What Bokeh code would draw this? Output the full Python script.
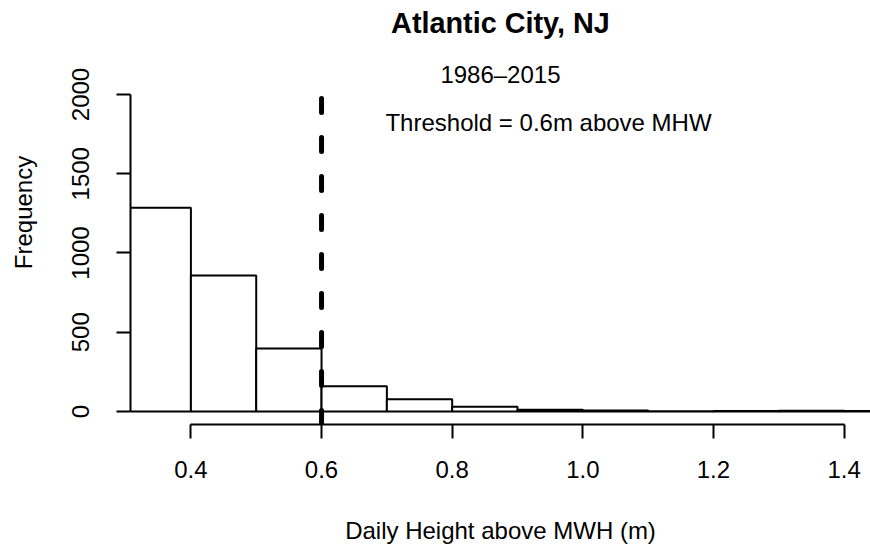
import math
from bokeh.plotting import figure
from bokeh.models import Range1d, FixedTicker, PrintfTickFormatter, Label, ColumnDataSource
from bokeh.embed import file_html
from bokeh.resources import INLINE

# ---- data ----
bin_left = [0.3, 0.4, 0.5, 0.6, 0.7, 0.8, 0.9, 1.0, 1.1, 1.2, 1.3, 1.4]
bin_right = [0.4, 0.5, 0.6, 0.7, 0.8, 0.9, 1.0, 1.1, 1.2, 1.3, 1.4, 1.5]
counts = [1285, 858, 397, 160, 77, 30, 11, 6, 1, 3, 4, 3]
threshold = [0.6]
x_ticks = [0.4, 0.6, 0.8, 1.0, 1.2, 1.4]
y_ticks = [0, 500, 1000, 1500, 2000]

title_text = "Atlantic City, NJ"
subtitle_text = "1986\u20132015"
note_text = "Threshold = 0.6m above MHW"
xlab = "Daily Height above MWH (m)"
ylab = "Frequency"

FONT = "Liberation Sans"

# plot region (R's usr box) in data units
REGION_Y = (-82, 2082)

p = figure(width=870, height=547, output_backend="svg", toolbar_location=None, title=None,
           x_range=Range1d(0.30753, 1.44042), y_range=Range1d(-82, 2593),
           min_border_left=130, min_border_right=0, min_border_top=0, min_border_bottom=123,
           background_fill_color="white", border_fill_color="white", outline_line_color=None)
p.xgrid.visible = False
p.ygrid.visible = False

src = ColumnDataSource(dict(left=bin_left, right=bin_right, top=counts, bottom=[0] * len(counts)))
p.quad(left="left", right="right", top="top", bottom="bottom", source=src,
       fill_color="white", line_color="black", line_width=2)

p.segment(x0=threshold, y0=[REGION_Y[0]], x1=threshold, y1=[REGION_Y[1]],
          line_color="black", line_width=5, line_dash="14 25", line_cap="round")

xa = p.xaxis[0]
xa.ticker = FixedTicker(ticks=x_ticks)
xa.formatter = PrintfTickFormatter(format="%.1f")
xa.bounds = (x_ticks[0], x_ticks[-1])
ya = p.yaxis[0]
ya.ticker = FixedTicker(ticks=y_ticks)
ya.bounds = (y_ticks[0], y_ticks[-1])
ya.major_label_orientation = "vertical"
for ax in (xa, ya):
    ax.major_tick_in = 0
    ax.major_tick_out = 14
    ax.minor_tick_line_color = None
    ax.axis_line_width = 2
    ax.axis_line_color = "black"
    ax.major_tick_line_width = 2
    ax.major_tick_line_color = "black"
    ax.major_label_text_font = FONT
    ax.major_label_text_font_size = "24px"
    ax.major_label_text_color = "black"
    ax.axis_label_text_font = FONT
    ax.axis_label_text_font_size = "24px"
    ax.axis_label_text_font_style = "normal"
    ax.axis_label_text_color = "black"
xa.major_label_standoff = 22
ya.major_label_standoff = 27
xa.axis_label = xlab
ya.axis_label = ylab
xa.axis_label_standoff = 36
ya.axis_label_standoff = 33

def lab(x, y, text, size="24px", style="normal", angle=0):
    p.add_layout(Label(x=x, y=y, text=text, text_font=FONT, text_font_size=size,
                       text_font_style=style, text_align="center", text_baseline="middle",
                       text_color="black", angle=angle))

lab(0.8739, 2450, title_text, size="28.8px", style="bold")
lab(0.8739, 2125, subtitle_text)
lab(0.9475, 1826, note_text)

open("out.html", "w").write(file_html(p, INLINE))
